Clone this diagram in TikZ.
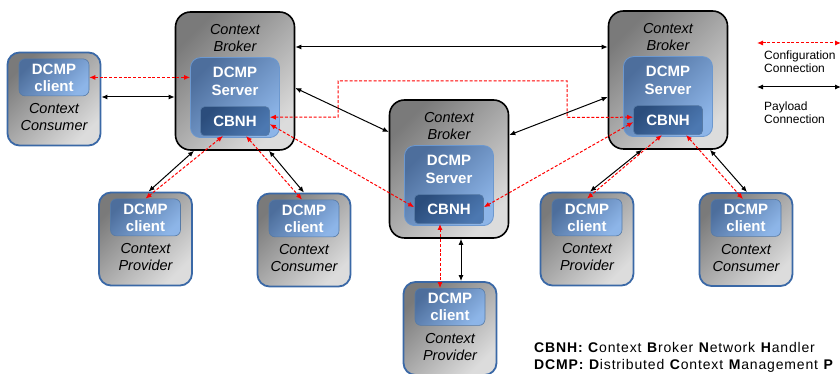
\documentclass[tikz,border=0pt]{standalone}
\usepackage{fontspec}
\setmainfont{Liberation Sans}
\newfontfamily\keyfont[LetterSpace=6]{Liberation Sans}
\usetikzlibrary{arrows.meta,positioning}
\definecolor{boxGrayDark}{HTML}{7A7A7A}
\definecolor{boxGrayLight}{HTML}{DCDCDC}
\definecolor{srvBlueDark}{HTML}{4D6E9C}
\definecolor{srvBlueLight}{HTML}{8DB5E8}
\definecolor{srvEdge}{HTML}{6C98CF}
\definecolor{cbnhDark}{HTML}{2B4D7C}
\definecolor{cbnhLight}{HTML}{4C78B1}
\definecolor{clientEdge}{HTML}{3A68A6}
\definecolor{cfgRed}{HTML}{FF0000}

\begin{document}
\begin{tikzpicture}[
  x=1pt, y=1pt,
  >={Latex[length=6pt,width=5pt]},
  broker/.style={draw=black, line width=1.6pt, rounded corners=15pt,
    top color=boxGrayDark, bottom color=boxGrayLight, shading angle=45,
    minimum width=119pt, minimum height=138pt},
  server/.style={draw=srvEdge, line width=0.8pt, rounded corners=10pt,
    top color=srvBlueDark, bottom color=srvBlueLight, shading angle=45,
    minimum width=89pt, minimum height=80pt},
  cbnh/.style={draw=srvEdge!80!black, line width=0.6pt, rounded corners=4pt,
    top color=cbnhDark, bottom color=cbnhLight, shading angle=45,
    minimum width=69pt, minimum height=29pt, inner sep=0pt,
    text=white, font=\fontsize{15}{18}\selectfont\bfseries},
  client/.style={draw=clientEdge, line width=1.8pt, rounded corners=12pt,
    top color=boxGrayDark, bottom color=boxGrayLight, shading angle=45,
    minimum width=93pt, minimum height=93pt},
  clientin/.style={draw=srvEdge!80!black, line width=0.6pt, rounded corners=6pt,
    top color=srvBlueDark, bottom color=srvBlueLight, shading angle=45,
    minimum width=70pt, minimum height=37pt, inner sep=0pt, align=center,
    text=white, font=\fontsize{15}{17}\selectfont\bfseries},
  srvtext/.style={inner sep=0pt, align=center, text=white,
    font=\fontsize{15}{18}\selectfont\bfseries},
  role/.style={inner sep=0pt, align=center,
    font=\fontsize{14.5}{17}\selectfont\itshape},
  legend/.style={inner sep=0pt, align=left, anchor=west,
    font=\fontsize{12}{13.5}\selectfont},
  pay/.style={<->, line width=1pt},
  cfg/.style={<->, draw=cfgRed, line width=1pt, dash pattern=on 3pt off 1.8pt}
]
  \useasboundingbox (0,0) rectangle (840,374);

  % brokers
  \node[broker] (b1) at (235,293) {};
  \node[broker] (b2) at (449,205) {};
  \node[broker] (b3) at (668,294) {};
  \foreach \b in {1,2,3}{
    \node[role, below=13pt of b\b.north] (bl\b) {Context\\Broker};
    \node[server, below=46pt of b\b.north] (s\b) {};
    \node[srvtext, below=10pt of s\b.north] (st\b) {DCMP\\Server};
    \node[cbnh, above=2pt of s\b.south] (n\b) {CBNH};
  }

  % clients
  \node[client] (c0) at (54,275) {};
  \node[client] (p1) at (145.5,135) {};
  \node[client] (c2) at (304,134) {};
  \node[client] (p3) at (450,45.5) {};
  \node[client] (p4) at (587,135) {};
  \node[client] (c5) at (746,134.5) {};
  \node[clientin, below=7pt of c0.north] (cc0) {DCMP\\client};
  \node[clientin, below=7pt of p1.north] (pc1) {DCMP\\client};
  \node[clientin, below=7pt of c2.north] (cc2) {DCMP\\client};
  \node[clientin, below=7pt of p3.north] (pc3) {DCMP\\client};
  \node[clientin, below=7pt of p4.north] (pc4) {DCMP\\client};
  \node[clientin, below=7pt of c5.north] (cc5) {DCMP\\client};
  \node[role, below=7pt of cc0] (cl0) {Context\\Consumer};
  \node[role, below=7pt of pc1] (pl1) {Context\\Provider};
  \node[role, below=7pt of cc2] (cl2) {Context\\Consumer};
  \node[role, below=7pt of pc3] (pl3) {Context\\Provider};
  \node[role, below=7pt of pc4] (pl4) {Context\\Provider};
  \node[role, below=7pt of cc5] (cl5) {Context\\Consumer};

  % payload connections
  \draw[pay] ([yshift=34pt]b1.east) -- ([yshift=34pt]b1.east -| b3.west);
  \draw[pay] ([yshift=2pt]c0.east) -- ([yshift=2pt]c0.east -| b1.west);
  \draw[pay] ([yshift=-7pt]b1.east) -- ([yshift=37pt]b2.west);
  \draw[pay] ([yshift=34pt]b2.east) -- ([yshift=-17pt]b3.west);
  \draw[pay] ([xshift=-41pt]b1.south) -- ([xshift=3pt]p1.north);
  \draw[pay] ([xshift=34pt]b1.south) -- (c2.north);
  \draw[pay] ([xshift=12pt]b2.south) -- ([xshift=12pt]b2.south |- p3.north);
  \draw[pay] ([xshift=-26pt]b3.south) -- ([xshift=3pt]p4.north);
  \draw[pay] ([xshift=42pt]b3.south) -- ([xshift=1pt]c5.north);

  % configuration connections
  \draw[cfg] (cc0.east) -- (cc0.east -| s1.west);
  \draw[cfg] ([yshift=4pt]n1.east) -| (338,293) -| (567,256.5)
    -- ([yshift=4pt]n1.east -| n3.west);
  \draw[cfg] ([yshift=-3pt]n1.east) -- ([yshift=2pt]n2.west);
  \draw[cfg] ([yshift=-2pt]n3.west) -- ([yshift=2pt]n2.east);
  \draw[cfg] ([xshift=-12pt]n1.south) -- (pc1.north);
  \draw[cfg] ([xshift=11pt]n1.south) -- ([xshift=-2pt]cc2.north);
  \draw[cfg] ([xshift=-9pt]n2.south) -- ([xshift=-9pt]n2.south |- pc3.north);
  \draw[cfg] ([xshift=-6pt]n3.south) -- (pc4.north);
  \draw[cfg] ([xshift=18pt]n3.south) -- ([xshift=-3pt]cc5.north);

  % legend
  \coordinate (cfgA) at (757,331);
  \coordinate (cfgB) at (841,331);
  \coordinate (payA) at (757,287);
  \coordinate (payB) at (841,287);
  \draw[cfg] (cfgA) -- (cfgB);
  \draw[pay] (payA) -- (payB);
  \node[legend] (cfgtxt) at (764,312.5) {Configuration\\Connection};
  \node[legend] (paytxt) at (764,261.5) {Payload\\Connection};

  \node[inner sep=0pt, align=left, anchor=west,
    font=\fontsize{14}{17}\selectfont\keyfont] (abbr) at (534,16.5)
    {\textbf{CBNH:} \textbf{C}ontext \textbf{B}roker \textbf{N}etwork \textbf{H}andler\\
     \textbf{DCMP:} \textbf{D}istributed \textbf{C}ontext \textbf{M}anagement \textbf{P}};
\end{tikzpicture}
\end{document}
